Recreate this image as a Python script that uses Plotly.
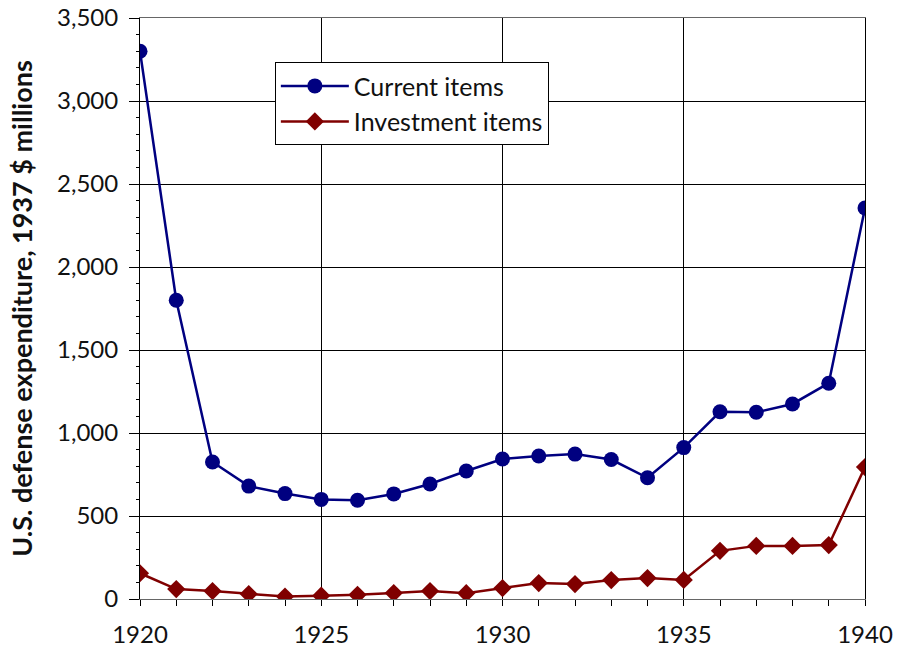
import plotly.graph_objects as go

years = list(range(1920, 1941))
current_items = [3300, 1800, 825, 680, 635, 600, 595, 633, 693, 771, 843, 861, 873, 840, 730, 912, 1128, 1125, 1175, 1300, 2355]
investment_items = [155, 60, 48, 30, 15, 20, 25, 36, 48, 35, 66, 96, 90, 114, 126, 115, 290, 320, 320, 325, 795]

FONT = "Lato"
fig = go.Figure()
fig.add_trace(go.Scatter(x=years, y=current_items, name="Current items", mode="lines+markers",
                         line=dict(color="#000080", width=2.5),
                         marker=dict(symbol="circle", size=15, color="#000080")))
fig.add_trace(go.Scatter(x=years, y=investment_items, name="Investment items", mode="lines+markers",
                         line=dict(color="#800000", width=2.5),
                         marker=dict(symbol="diamond", size=14, color="#800000")))

fig.update_layout(
    width=904, height=658,
    margin=dict(l=140, r=39, t=18, b=59, autoexpand=False),
    paper_bgcolor="white", plot_bgcolor="white",
    font=dict(family=FONT, size=24, color="#111"),
    showlegend=True,
    legend=dict(x=0.186, y=0.924, xanchor="left", yanchor="top",
                bgcolor="white", bordercolor="black", borderwidth=1,
                font=dict(family=FONT, size=25, color="#111"),
                itemwidth=68, tracegroupgap=4),
    xaxis=dict(range=[1920, 1940], tickmode="linear", tick0=1920, dtick=5,
               showgrid=True, gridcolor="black", gridwidth=1,
               showline=True, linecolor="#666", linewidth=1, mirror=True,
               ticks="outside", ticklen=6, tickcolor="black",
               minor=dict(dtick=1, ticks="outside", ticklen=6, tickcolor="black", showgrid=False),
               ticklabelstandoff=8, zeroline=False, automargin=False,
               tickfont=dict(family=FONT, size=24)),
    yaxis=dict(range=[0, 3500], tickmode="linear", tick0=0, dtick=500,
               showgrid=True, gridcolor="black", gridwidth=1,
               showline=True, linecolor="black", linewidth=1, mirror=True,
               ticks="outside", ticklen=10, tickcolor="black",
               minor=dict(dtick=100, ticks="outside", ticklen=3, tickcolor="black", showgrid=False),
               tickformat=",d", separatethousands=True, zeroline=False,
               ticklabelstandoff=6, automargin=False,
               tickfont=dict(family=FONT, size=24),
               title=dict(text="<b>U.S. defense expenditure, 1937 $ millions</b>",
                          font=dict(family=FONT, size=27, color="#111"), standoff=16)),
    xaxis2=dict(range=[1920, 1940], overlaying="x", anchor="y", side="bottom",
                tickmode="linear", tick0=1920, dtick=1, ticks="inside", ticklen=6,
                tickcolor="black", showticklabels=False, showgrid=False, showline=False,
                zeroline=False),
    yaxis2=dict(range=[0, 3500], overlaying="y", anchor="x", side="left",
                tickmode="linear", tick0=0, dtick=100, ticks="inside", ticklen=7,
                tickcolor="black", showticklabels=False, showgrid=False, showline=False,
                zeroline=False),
)

fig.write_html("out.html", config={"displayModeBar": False})
with open("out.html", "r", encoding="utf-8") as f:
    html = f.read()
html = html.replace("<head>", "<head><style>html,body{margin:0;padding:0;overflow:hidden}</style>", 1)
with open("out.html", "w", encoding="utf-8") as f:
    f.write(html)
